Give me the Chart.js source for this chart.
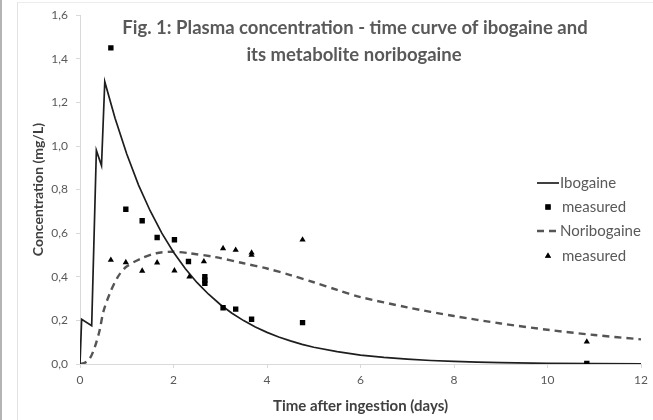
<!DOCTYPE html>
<html lang="en">
<head>
    <meta charset="utf-8">
    <title>Plasma concentration - time curve</title>
    <script src="https://cdn.jsdelivr.net/npm/chart.js"></script>
    <style>
        body {
            margin: 0;
            background: #fff;
        }

        .frame {
            position: relative;
            width: 653px;
            height: 420px;
            overflow: hidden;
        }

        .edge-left {
            position: absolute;
            left: 0;
            top: 0;
            width: 2px;
            height: 420px;
            background: #b4b4b4;
        }

        .chart-border {
            position: absolute;
            left: 17px;
            top: 2px;
            width: 660px;
            height: 440px;
            border-left: 1px solid #e2e2e2;
            border-top: 1px solid #ececec;
        }

        #plasmaChart {
            position: absolute;
            left: 0;
            top: 0;
        }
    </style>
</head>

<body>
    <div class="frame">
        <div class="edge-left"></div>
        <div class="chart-border"></div>
        <canvas id="plasmaChart" width="653" height="420"></canvas>
    </div>

    <script>
        // model curve of ibogaine (days, mg/L)
        const ibogaineX = [0, 0.035, 0.25, 0.35, 0.46, 0.53, 0.75, 1.0, 1.25, 1.5, 1.75, 2.0, 2.25, 2.5, 2.75,
            3.0, 3.25, 3.5, 3.75, 4.0, 4.25, 4.5, 4.75, 5.0, 5.5, 6.0, 6.5, 7, 7.5, 8, 8.5, 9, 10, 11, 12];
        const ibogaineY = [0, 0.205, 0.176, 0.98, 0.91, 1.295, 1.127, 0.963, 0.822, 0.703, 0.600, 0.513, 0.438, 0.374, 0.320,
            0.273, 0.233, 0.199, 0.170, 0.145, 0.124, 0.106, 0.090, 0.077, 0.057, 0.041, 0.030, 0.022, 0.016, 0.012, 0.0085,
            0.006, 0.003, 0.002, 0.001];

        // model curve of noribogaine
        const noribogaineX = [0, 0.1, 0.21, 0.32, 0.42, 0.5, 0.64, 0.81, 0.99, 1.31, 1.63, 1.98, 2.34, 2.9, 3.5,
            4.0, 4.5, 5.0, 5.5, 6.0, 7, 8, 9, 10, 11, 12];
        const noribogaineY = [0, 0.005, 0.025, 0.08, 0.155, 0.24, 0.325, 0.40, 0.446, 0.484, 0.508, 0.515, 0.508, 0.49, 0.462,
            0.438, 0.408, 0.375, 0.34, 0.307, 0.26, 0.22, 0.186, 0.157, 0.133, 0.113];

        // measured samples
        const ibogaineMeasX = [0.66, 0.98, 1.33, 1.65, 2.02, 2.32, 2.67, 2.67, 2.67, 3.06, 3.33, 3.67, 4.76, 10.84];
        const ibogaineMeasY = [1.45, 0.71, 0.657, 0.58, 0.57, 0.47, 0.40, 0.385, 0.37, 0.258, 0.252, 0.205, 0.19, 0.003];
        const noribogaineMeasX = [0.66, 0.98, 1.33, 1.65, 2.02, 2.34, 2.65, 3.06, 3.33, 3.67, 3.67, 4.76, 10.84];
        const noribogaineMeasY = [0.477, 0.466, 0.427, 0.465, 0.428, 0.40, 0.47, 0.53, 0.523, 0.51, 0.50, 0.57, 0.102];

        const yTicks = [0, 0.2, 0.4, 0.6, 0.8, 1.0, 1.2, 1.4, 1.6];
        const xTicks = [0, 2, 4, 6, 8, 10, 12];

        const titleLines = ['Fig. 1: Plasma concentration - time curve of ibogaine and', 'its metabolite noribogaine'];

        const toPoints = (xs, ys) => xs.map((x, i) => ({ x: x, y: ys[i] }));

        const FONT = 'Lato, "Open Sans", sans-serif';
        const GREY = '#595959';

        // title and legend sit on top of the plot area, as in the original
        const overlayPlugin = {
            id: 'overlay',
            afterDraw(chart) {
                const ctx = chart.ctx;
                ctx.save();

                ctx.fillStyle = GREY;
                ctx.textAlign = 'center';
                ctx.textBaseline = 'middle';
                ctx.font = 'bold 18.5px ' + FONT;
                ctx.fillText(titleLines[0], 355, 28);
                ctx.fillText(titleLines[1], 354, 55);

                // legend
                const items = chart.data.datasets;
                const rows = [183, 207, 231, 256];
                ctx.font = '15px ' + FONT;
                ctx.textAlign = 'left';
                items.forEach((ds, i) => {
                    const y = rows[i];
                    if (ds.showLine) {
                        ctx.strokeStyle = ds.borderColor;
                        ctx.lineWidth = ds.borderWidth;
                        ctx.setLineDash(ds.borderDash || []);
                        ctx.beginPath();
                        ctx.moveTo(537, y);
                        ctx.lineTo(559, y);
                        ctx.stroke();
                        ctx.setLineDash([]);
                        ctx.fillStyle = GREY;
                        ctx.fillText(ds.label, 560, y);
                    } else {
                        Chart.helpers.drawPoint(ctx, {
                            pointStyle: ds.pointStyle,
                            radius: ds.pointRadius,
                            borderWidth: 0
                        }, 548, y);
                        ctx.fillStyle = '#000';
                        ctx.fill();
                        ctx.fillStyle = GREY;
                        ctx.fillText(ds.label, 562, y);
                    }
                });
                ctx.restore();
            }
        };

        const ctx = document.getElementById('plasmaChart').getContext('2d');

        new Chart(ctx, {
            type: 'scatter',
            data: {
                datasets: [
                    {
                        label: 'Ibogaine',
                        data: toPoints(ibogaineX, ibogaineY),
                        showLine: true,
                        borderColor: '#1e1e1e',
                        borderWidth: 1.7,
                        pointRadius: 0,
                        tension: 0,
                        order: 3
                    },
                    {
                        label: 'measured',
                        data: toPoints(ibogaineMeasX, ibogaineMeasY),
                        showLine: false,
                        pointStyle: 'rect',
                        pointRadius: 3.8,
                        backgroundColor: '#000',
                        borderWidth: 0,
                        order: 1
                    },
                    {
                        label: 'Noribogaine',
                        data: toPoints(noribogaineX, noribogaineY),
                        showLine: true,
                        borderColor: '#555555',
                        borderWidth: 2.4,
                        borderDash: [7, 5],
                        pointRadius: 0,
                        tension: 0.3,
                        order: 4
                    },
                    {
                        label: 'measured',
                        data: toPoints(noribogaineMeasX, noribogaineMeasY),
                        showLine: false,
                        pointStyle: 'triangle',
                        pointRadius: 3.6,
                        backgroundColor: '#000',
                        borderWidth: 0,
                        order: 2
                    }
                ]
            },
            options: {
                responsive: false,
                animation: false,
                layout: {
                    padding: { left: 17, right: 8, top: 15, bottom: 0 }
                },
                plugins: {
                    legend: { display: false },
                    tooltip: { enabled: false }
                },
                scales: {
                    x: {
                        type: 'linear',
                        min: 0,
                        max: 12,
                        afterBuildTicks: (scale) => {
                            scale.ticks = xTicks.map(v => ({ value: v }));
                        },
                        afterFit: (scale) => { scale.height = 56; },
                        grid: {
                            drawOnChartArea: false,
                            drawTicks: true,
                            tickLength: 4,
                            color: '#d9d9d9'
                        },
                        border: { color: '#d9d9d9', width: 1 },
                        ticks: {
                            color: GREY,
                            padding: 5,
                            font: { family: FONT, size: 12 }
                        },
                        title: {
                            display: true,
                            text: 'Time after ingestion (days)',
                            color: '#404040',
                            font: { family: FONT, size: 15, weight: 'bold' },
                            padding: { top: 0, bottom: 5 }
                        }
                    },
                    y: {
                        min: 0,
                        max: 1.6,
                        afterBuildTicks: (scale) => {
                            scale.ticks = yTicks.map(v => ({ value: v }));
                        },
                        afterFit: (scale) => { scale.width = 63; },
                        grid: {
                            drawOnChartArea: false,
                            drawTicks: true,
                            tickLength: 4,
                            color: '#d9d9d9'
                        },
                        border: { color: '#d9d9d9', width: 1 },
                        ticks: {
                            color: GREY,
                            padding: 8,
                            font: { family: FONT, size: 12 },
                            callback: (v) => v.toFixed(1).replace('.', ',')
                        },
                        title: {
                            display: true,
                            text: 'Concentration (mg/L)',
                            color: '#404040',
                            font: { family: FONT, size: 14, weight: 'bold' },
                            padding: { top: 13, bottom: 0 }
                        }
                    }
                }
            },
            plugins: [overlayPlugin]
        });
    </script>
</body>

</html>
